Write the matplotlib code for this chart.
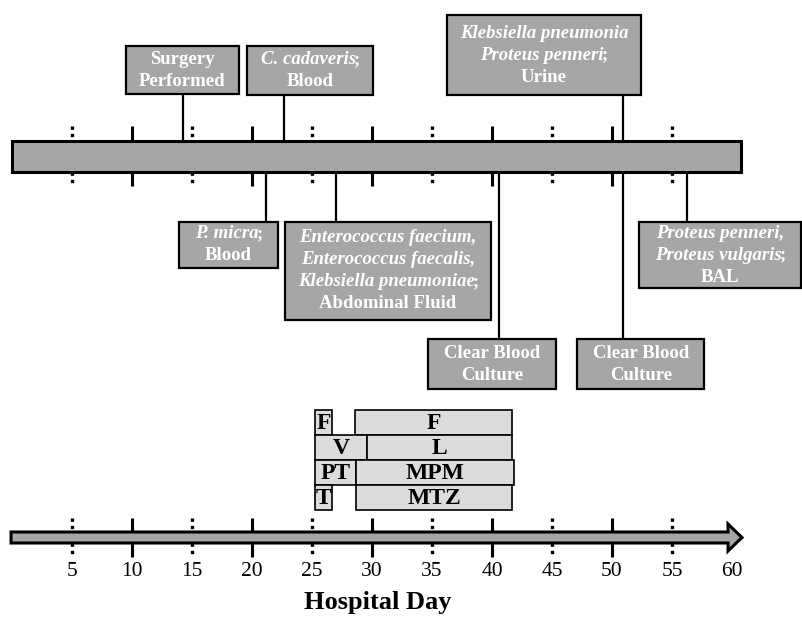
"""Hospital course timeline: culture results and antibiotic courses."""
import matplotlib
matplotlib.use("Agg")
import matplotlib.pyplot as plt
from matplotlib.patches import Rectangle, Polygon
from matplotlib.offsetbox import TextArea, HPacker, AnnotationBbox

plt.rcParams["font.family"] = ["Liberation Serif", "DejaVu Serif"]

# timeline ticks (hospital day)
solid_days = [10, 20, 30, 40, 50]
dotted_days = [5, 15, 25, 35, 45, 55]
tick_days = [5, 10, 15, 20, 25, 30, 35, 40, 45, 50, 55, 60]

# events: day, side of the bar, text lines made of (text, italic) pieces
event_days = [14.25, 22.7, 50.9, 21.2, 27.0, 40.6, 50.9, 56.25]
event_side = ["above", "above", "above", "below", "below", "below", "below", "below"]
event_lines = [
    [[("Surgery", False)], [("Performed", False)]],
    [[("C. cadaveris", True), (";", False)], [("Blood", False)]],
    [[("Klebsiella pneumonia", True)], [("Proteus penneri", True), (";", False)],
     [("Urine", False)]],
    [[("P. micra", True), (";", False)], [("Blood", False)]],
    [[("Enterococcus faecium,", True)], [("Enterococcus faecalis,", True)],
     [("Klebsiella pneumoniae", True), (";", False)], [("Abdominal Fluid", False)]],
    [[("Clear Blood", False)], [("Culture", False)]],
    [[("Clear Blood", False)], [("Culture", False)]],
    [[("Proteus penneri,", True)], [("Proteus vulgaris", True), (";", False)],
     [("BAL", False)]],
]

# antibiotic courses
abx_labels = ["F", "F", "V", "L", "PT", "MPM", "T", "MTZ"]
abx_start = [25.25, 28.6, 25.25, 29.6, 25.25, 28.7, 25.25, 28.7]
abx_end = [26.7, 41.7, 29.6, 41.7, 28.7, 41.8, 26.7, 41.7]
abx_row = [0, 0, 1, 1, 2, 2, 3, 3]

# box layout (x in days, y in pixels from top)
box_left = [9.5, 19.6, 36.25, 13.9, 22.75, 34.7, 47.1, 52.25]
box_right = [18.9, 30.1, 52.4, 22.2, 39.9, 45.3, 57.7, 65.75]
box_top = [46, 46, 15, 222, 222, 339, 339, 222]
box_bottom = [94, 95, 95, 268, 320, 389, 389, 288]

BOX_GREY = "#a6a6a6"
ABX_GREY = "#dcdcdc"

fig = plt.figure(figsize=(8.03, 6.23), dpi=100)
ax = fig.add_axes([0, 0, 1, 1])
ax.set_xlim(-1, 65.917)
ax.set_ylim(623, 0)
ax.axis("off")


def draw_ticks(top, bottom, y0, y1):
    for d in solid_days:
        ax.plot([d, d], [y0, top], color="black", lw=2.2, solid_capstyle="butt", zorder=1)
        ax.plot([d, d], [bottom, y1], color="black", lw=2.2, solid_capstyle="butt", zorder=1)
    for d in dotted_days:
        ax.plot([d, d], [y0, top], color="black", lw=2.4, ls=(0, (1, 1.2)), zorder=1)
        ax.plot([d, d], [bottom, y1], color="black", lw=2.4, ls=(0, (1, 1.2)), zorder=1)


def draw_line_text(x, y, pieces, size, color):
    areas = []
    for txt, ital in pieces:
        areas.append(TextArea(txt, textprops=dict(
            color=color, fontsize=size, fontweight="bold",
            fontstyle="italic" if ital else "normal")))
    pack = HPacker(children=areas, align="baseline", pad=0, sep=-2)
    ab = AnnotationBbox(pack, (x, y), xycoords="data", frameon=False,
                        box_alignment=(0.5, 0.5), pad=0, zorder=5)
    ax.add_artist(ab)


# upper timeline bar
bar_top, bar_bot = 141, 172
ax.add_patch(Rectangle((0, bar_top), 60.75, bar_bot - bar_top, facecolor=BOX_GREY,
                       edgecolor="black", lw=2.2, zorder=3))
draw_ticks(bar_top, bar_bot, 126, 186)

# events
for i, d in enumerate(event_days):
    if event_side[i] == "above":
        ax.plot([d, d], [box_bottom[i], bar_top], color="black", lw=1.6, zorder=2)
    else:
        ax.plot([d, d], [bar_bot, box_top[i]], color="black", lw=1.6, zorder=2)
    ax.add_patch(Rectangle((box_left[i], box_top[i]), box_right[i] - box_left[i],
                           box_bottom[i] - box_top[i], facecolor=BOX_GREY,
                           edgecolor="black", lw=1.6, zorder=4))
    xc = (box_left[i] + box_right[i]) / 2
    yc = (box_top[i] + box_bottom[i]) / 2
    n = len(event_lines[i])
    for j, pieces in enumerate(event_lines[i]):
        draw_line_text(xc, yc + (j - (n - 1) / 2) * 22, pieces, 13.5, "white")

# antibiotic courses
row_top, row_h = 410, 25
for lab, s, e, r in zip(abx_labels, abx_start, abx_end, abx_row):
    y = row_top + r * row_h
    ax.add_patch(Rectangle((s, y), e - s, row_h, facecolor=ABX_GREY,
                           edgecolor="black", lw=1.2, zorder=3))
    ax.text((s + e) / 2, y + row_h / 2 + 1, lab, ha="center", va="center",
            fontsize=17, fontweight="bold", color="black", zorder=4)

# lower axis arrow
a_top, a_bot = 532, 543
x0, xb, xt = -0.08, 59.67, 60.83
ax.add_patch(Polygon([(x0, a_top), (xb, a_top), (xb, 524), (xt, (a_top + a_bot) / 2),
                      (xb, 551), (xb, a_bot), (x0, a_bot)], closed=True,
                     facecolor=BOX_GREY, edgecolor="black", lw=2.2, zorder=3))
draw_ticks(a_top, a_bot, 518, 557)
for d in tick_days:
    ax.text(d, 571, str(d), ha="center", va="center", fontsize=15.5)

ax.text(30.5, 603, "Hospital Day", ha="center", va="center", fontsize=19,
        fontweight="bold")

fig.savefig("out.png", dpi=100)
plt.close(fig)
